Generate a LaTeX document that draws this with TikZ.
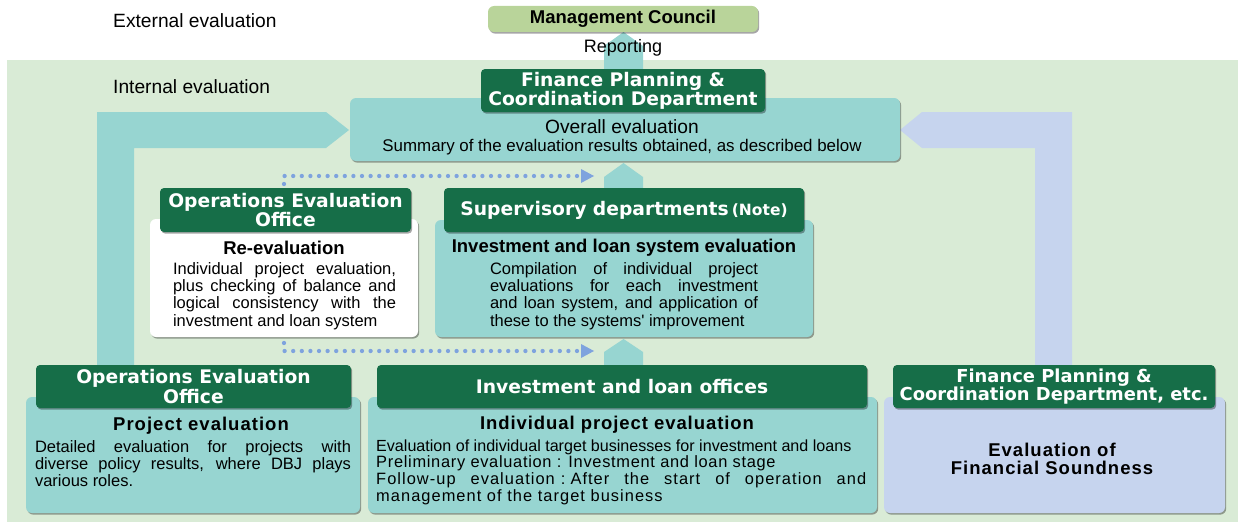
\documentclass[tikz,border=0pt]{standalone}
\usepackage{fontspec}
\setmainfont{Liberation Sans}
\newfontfamily\hdfont{DejaVu Sans}
\usetikzlibrary{arrows.meta,shadows}
\definecolor{bgg}{HTML}{D9EBD6}
\definecolor{dkg}{HTML}{166E48}
\definecolor{tealc}{HTML}{97D5D1}
\definecolor{lav}{HTML}{C6D4EE}
\definecolor{olive}{HTML}{B9D49A}
\definecolor{dotc}{HTML}{7EA3DE}
\newcommand{\lsp}[2]{{\addfontfeature{LetterSpace=#1}#2}}
\newcommand{\lspc}[1]{\ifx#1\relax\else#1\kern1.05pt\expandafter\lspc\fi}
\begin{document}
\begin{tikzpicture}[x=1pt,y=-1pt,
  shad/.style={drop shadow={shadow xshift=1.2pt,shadow yshift=-1.6pt,fill=black,opacity=0.35}},
  body/.style={shad, rounded corners=6pt, inner sep=0pt, draw=none},
  hd/.style={shad, rounded corners=4pt, fill=dkg, text=white, inner sep=0pt, align=center,
    font=\hdfont\bfseries\fontsize{18.7}{18}\selectfont},
  tx/.style={inner sep=0pt, font=\fontsize{16.5}{17.3}\selectfont},
  ln/.style={inner sep=0pt, anchor=west},
  titlefont/.style={font=\bfseries\fontsize{18.5}{18}\selectfont},
  dotline/.style={draw=dotc, line width=4.3pt, line cap=round, dash pattern=on 0pt off 8.6pt},
  tipc/.style={fill=dotc},
  upc/.style={fill=tealc}]
\useasboundingbox (0,0) rectangle (1238,527);
% background
\fill[bgg] (7,60) rectangle (1238,522);
\node[anchor=west, inner sep=0pt, font=\fontsize{19.2}{20}\selectfont] (ext) at (113,21) {External evaluation};
\node[anchor=west, inner sep=0pt, font=\fontsize{19.2}{20}\selectfont] (int) at (113,87) {Internal evaluation};
% L arrows
\fill[tealc] (97,380) -- (97,112) -- (326,112) -- (349,130) -- (326,148) -- (134,148) -- (134,380) -- cycle;
\fill[lav] (1072,380) -- (1072,112) -- (922,112) -- (900,130) -- (922,148) -- (1035,148) -- (1035,380) -- cycle;
% up arrows
\foreach \a/\s/\b in {32/46/75, 163/177/195, 339/352/370}
  \fill[upc] (604,\b) -- (604,\s) -- (623.5,\a) -- (643,\s) -- (643,\b) -- cycle;
% council
\node[body, fill=olive, minimum width=270, minimum height=26, font=\bfseries\fontsize{18.5}{20}\selectfont] (council) at (623,19) {Management Council};
\node[inner sep=0pt, font=\fontsize{18}{20}\selectfont] (rep) at (623,48) {Reporting};
% overall
\node[body, fill=tealc, minimum width=550, minimum height=63] (overall) at (625,129.5) {};
\node[hd, minimum width=284, minimum height=43] (fph) at (623,90.5) {Finance Planning \&\\Coordination Department};
\node[tx, font=\fontsize{19.2}{20}\selectfont] (ovt) at (622,127) {Overall evaluation};
\node[tx, font=\fontsize{16.9}{18}\selectfont] (ovs) at (622,147) {Summary of the evaluation results obtained, as described below};
% re-evaluation
\node[body, fill=white, minimum width=268, minimum height=118] (rebox) at (284,278) {};
\node[hd, minimum width=251, minimum height=44] (rehd) at (285.5,210) {Operations Evaluation\\Office};
\node[tx, titlefont] (ret) at (284,248) {Re-evaluation};
\node[tx, text width=223pt, align=justify] (rep2) at (284.5,296) {Individual project evaluation,\linebreak plus checking of balance and\linebreak logical consistency with the\linebreak investment and loan system};
% supervisory
\node[body, fill=tealc, minimum width=378, minimum height=117] (supbox) at (624,278.5) {};
\node[hd, minimum width=360, minimum height=44] (suphd) at (624,210) {Supervisory departments\,{\fontsize{15.5}{14}\selectfont(Note)}};
\node[tx, titlefont] (supt) at (624,248) {Investment and loan system evaluation};
\node[tx, text width=268pt, align=justify] (supp) at (624,296) {Compilation of individual project\linebreak evaluations for each investment\linebreak and loan system, and application of\linebreak these to the systems\textquotesingle{} improvement};
% bottom left
\node[body, fill=tealc, minimum width=334, minimum height=116] (oebox) at (193,455) {};
\node[hd, minimum width=315, minimum height=43] (oehd) at (193.5,386.5) {Operations Evaluation\\Office};
\node[tx, titlefont] (oet) at (201,426) {\lsp{5.5}{Project evaluation}};
\node[tx, text width=316pt, align=justify] (oep) at (193,463.5) {Detailed evaluation for projects with\linebreak diverse policy results, where DBJ plays\linebreak various roles.};
% bottom middle
\node[body, fill=tealc, minimum width=509, minimum height=116] (ilbox) at (622.5,455) {};
\node[hd, minimum width=490, minimum height=43] (ilhd) at (622,386.5) {Investment and loan offices};
\node[tx, titlefont] (ilt) at (617,425) {\lsp{5}{Individual project evaluation}};
\node[ln, font=\fontsize{16.1}{16.8}\selectfont] (il1) at (376,447) {Evaluation of individual target businesses for investment and loans};
\node[ln, font=\fontsize{16.4}{16.8}\selectfont] (il2) at (376,463.5) {\lsp{4.3}{Preliminary evaluation : Investment and loan stage}};
\node[ln, font=\fontsize{16.4}{16.8}\selectfont] (il3) at (376,480) {\makebox[490pt][l]{\lspc Follow-up\relax\hfill\lspc evaluation\relax\hspace{5pt}\lspc :\relax\hspace{4pt}\lspc After\relax\hfill\lspc the\relax\hfill\lspc start\relax\hfill\lspc of\relax\hfill\lspc operation\relax\hfill\lspc and\relax\kern-1.05pt}};
\node[ln, font=\fontsize{16.4}{16.8}\selectfont] (il4) at (376,497) {\lspc management\relax\ \lspc of\relax\ \lspc the\relax\ \lspc target\relax\ \lspc business\relax};
% bottom right
\node[body, fill=lav, minimum width=341, minimum height=116] (fpebox) at (1054.5,455) {};
\node[hd, minimum width=322, minimum height=43, font=\hdfont\bfseries\fontsize{17.9}{18}\selectfont] (fpehd) at (1054,386.5) {Finance Planning \&\\Coordination Department, etc.};
\node[tx, titlefont, align=center] (fpet) at (1052,459) {\lsp{5.5}{Evaluation of}\\\lsp{5.5}{Financial Soundness}};
% dotted arrows
\coordinate (d1s) at (284,184); \coordinate (d1c) at (284,176); \coordinate (d1t) at (580,176); \coordinate (d1e) at (594,176);
\coordinate (d2s) at (284,343); \coordinate (d2c) at (284,351); \coordinate (d2t) at (580,351); \coordinate (d2e) at (594,351);
\draw[dotline] (d1s) -- (d1c) -- (d1t);
\draw[dotline] (d2s) -- (d2c) -- (d2t);
\fill[tipc] (d1e) -- ([shift={(-13,-7)}]d1e) -- ([shift={(-13,7)}]d1e) -- cycle;
\fill[tipc] (d2e) -- ([shift={(-13,-7)}]d2e) -- ([shift={(-13,7)}]d2e) -- cycle;
\end{tikzpicture}
\end{document}
